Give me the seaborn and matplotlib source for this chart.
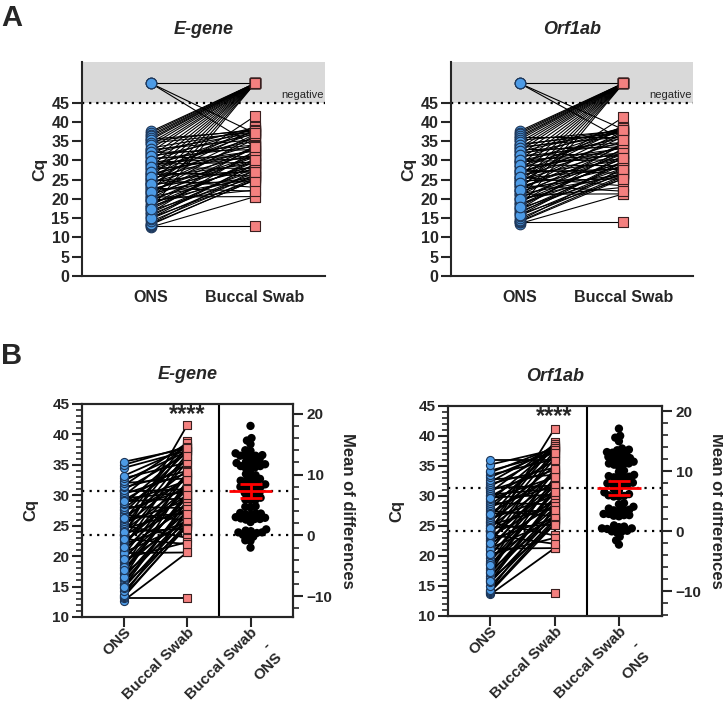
import numpy as np
import pandas as pd
import matplotlib.pyplot as plt
import seaborn as sns
from matplotlib.ticker import MultipleLocator

sns.set_style("ticks")
plt.rcParams['font.family'] = ['Liberation Sans', 'DejaVu Sans']
plt.rcParams['font.weight'] = 'bold'
plt.rcParams['axes.labelweight'] = 'bold'
plt.rcParams['axes.titleweight'] = 'bold'

#%% data (Cq values)

samples = ['ONS', 'Buccal Swab']
diff_label = ['Buccal Swab', '-\nONS']

# E-gene, pairs positive in both samples (panel B)
ons_e = [12.7, 13.1, 13.3, 13.5, 13.6, 14.2, 14.8, 15.2, 15.5, 16.0,
         16.4, 17.0, 17.3, 18.0, 18.5, 19.0, 19.4, 19.8, 20.2, 20.6,
         21.0, 21.3, 21.7, 22.0, 22.3, 22.6, 23.0, 23.3, 25.0, 23.9,
         24.2, 24.5, 24.8, 25.1, 25.5, 25.8, 26.1, 26.5, 26.8, 27.1,
         27.5, 27.8, 28.1, 28.5, 28.8, 29.2, 29.5, 29.9, 30.2, 30.6,
         30.9, 31.3, 31.6, 32.0, 32.4, 32.8, 33.2, 34.5, 35.0, 35.5,
         20.5, 23.5, 16.5, 18.2, 21.5, 15.0, 19.6, 26.3, 29.0, 24.0,
         22.8, 17.8]
bs_e = [20.6, 13.1, 25.0, 24.9, 27.5, 25.4, 26.2, 24.9, 29.0, 26.8,
        28.1, 25.6, 30.4, 27.3, 29.6, 26.0, 31.5, 28.8, 33.3, 25.3,
        30.9, 27.9, 33.6, 25.6, 31.2, 28.4, 35.5, 30.0, 23.0, 36.8,
        31.8, 27.4, 38.0, 33.0, 29.2, 38.9, 34.1, 32.7, 25.9, 37.2,
        31.0, 35.8, 27.9, 37.5, 32.4, 35.1, 30.5, 38.3, 33.6, 31.0,
        36.8, 34.0, 38.6, 32.8, 37.2, 35.4, 37.8, 37.3, 38.0, 37.7,
        20.6, 41.5, 32.5, 33.8, 36.5, 29.0, 22.3, 27.0, 29.5, 24.5,
        22.0, 30.0]
# E-gene, pairs with a negative result (panel A only)
ons_e_bs_neg = [37.5, 37.1, 36.6, 36.2, 35.7, 35.3, 34.6, 33.9, 33.0, 32.2,
                31.0, 29.8, 28.4, 27.0, 25.6, 23.8, 21.9, 19.6, 17.4]
bs_e_ons_neg = [37.0, 33.5]
both_neg_e = 1

# Orf1ab, pairs positive in both samples (panel B)
ons_o = [13.6, 13.9, 14.0, 14.2, 14.4, 15.0, 15.6, 16.0, 16.3, 16.7,
         17.1, 17.6, 18.0, 18.6, 19.2, 19.7, 20.1, 20.5, 20.9, 21.3,
         21.7, 22.0, 22.4, 22.7, 23.0, 23.3, 23.7, 24.0, 25.6, 24.6,
         24.9, 25.2, 25.5, 25.8, 26.2, 26.5, 26.8, 27.2, 27.5, 27.8,
         28.2, 28.5, 28.8, 29.2, 29.5, 29.9, 30.2, 30.6, 30.9, 31.3,
         31.6, 32.0, 32.3, 32.7, 33.1, 33.5, 33.9, 34.2, 35.2, 36.0,
         21.2, 24.1, 17.3, 18.9, 22.2, 15.8, 20.3, 27.0, 29.7, 24.7,
         23.5, 18.5]
bs_o = [21.3, 13.9, 25.3, 25.8, 28.0, 26.1, 26.8, 25.2, 29.8, 27.5,
        28.9, 26.4, 31.2, 28.0, 30.5, 26.7, 32.0, 29.6, 34.0, 26.0,
        31.6, 28.5, 34.4, 26.3, 32.0, 29.1, 36.2, 30.8, 23.4, 37.5,
        32.5, 28.1, 38.4, 33.7, 30.0, 38.9, 34.9, 33.4, 26.6, 37.9,
        31.7, 36.4, 28.6, 38.2, 33.1, 35.8, 31.2, 38.6, 34.3, 31.7,
        37.4, 34.7, 38.3, 33.5, 37.6, 36.1, 38.0, 37.1, 37.7, 36.0,
        21.3, 41.2, 33.2, 34.5, 37.2, 29.6, 23.0, 27.7, 30.2, 25.2,
        22.0, 30.7]
ons_o_bs_neg = [37.6, 37.2, 36.8, 36.3, 35.9, 35.4, 34.7, 34.0, 33.2, 32.4,
                31.3, 30.0, 28.7, 27.3, 25.8, 24.0, 22.2, 20.0, 17.8]
bs_o_ons_neg = [38.0, 35.2]
both_neg_o = 1

NEG = 50  # level where negatives are drawn
T_95 = 1.994

BLUE = '#4d9be6'
BLUE_EDGE = '#1d3557'
PINK = '#f4807f'
PINK_EDGE = '#3a1f1f'


def long_pairs(ons, bs):
    n = len(ons)
    return pd.DataFrame({
        'pair': np.tile(np.arange(n), 2),
        'sample': [samples[0]] * n + [samples[1]] * n,
        'pos': [0] * n + [1] * n,
        'cq': np.concatenate([ons, bs]).astype(float),
    })


def draw_pairs(ax, df, lw, s):
    sns.lineplot(data=df, x='pos', y='cq', units='pair', estimator=None,
                 color='k', lw=lw, ax=ax, legend=False, sort=False)
    sns.scatterplot(data=df[df['sample'] == samples[0]], x='pos', y='cq',
                    marker='o', s=s, color=BLUE, edgecolor=BLUE_EDGE,
                    linewidth=0.8, ax=ax, legend=False, zorder=3)
    sns.scatterplot(data=df[df['sample'] == samples[1]], x='pos', y='cq',
                    marker='s', s=s, color=PINK, edgecolor=PINK_EDGE,
                    linewidth=0.8, ax=ax, legend=False, zorder=3)


def panel_a(ax, ons, bs, ons_bs_neg, bs_ons_neg, both_neg, title):
    ons_all = ons + ons_bs_neg + [NEG] * len(bs_ons_neg) + [NEG] * both_neg
    bs_all = bs + [NEG] * len(ons_bs_neg) + bs_ons_neg + [NEG] * both_neg
    df = long_pairs(ons_all, bs_all)
    ax.axhspan(45, 56, color='#d9d9d9', lw=0, zorder=0)
    ax.axhline(45, color='k', lw=1.6, ls=(0, (1, 2.2)), zorder=1)
    draw_pairs(ax, df, lw=0.8, s=58)
    ax.text(0.995, 45.7, 'negative', transform=ax.get_yaxis_transform(),
            ha='right', va='bottom', fontsize=8, fontweight='normal')
    ax.set_xlim(-0.66, 1.67)
    ax.set_ylim(0, 55.5)
    ax.set_yticks(np.arange(0, 50, 5))
    ax.set_xticks([0, 1])
    ax.set_xticklabels(samples)
    ax.tick_params(axis='x', length=0, pad=10, labelsize=11.5)
    ax.tick_params(axis='y', length=7, width=1.5, labelsize=11.5, pad=2)
    ax.set_xlabel('')
    ax.set_ylabel('Cq', fontsize=12.5, labelpad=3)
    ax.set_title(title, style='italic', fontsize=13, pad=20)
    sns.despine(ax=ax)
    for sp in ax.spines.values():
        sp.set_linewidth(1.5)


def panel_b(ax, ons, bs, title):
    df = long_pairs(ons, bs)
    diffs = np.array(bs) - np.array(ons)
    m_ons, m_bs = np.mean(ons), np.mean(bs)
    m_diff = diffs.mean()
    ci = T_95 * diffs.std(ddof=1) / np.sqrt(len(diffs))

    ax.axvline(1.5, color='k', lw=1.5)
    for m in (m_ons, m_bs):
        ax.axhline(m, color='k', lw=1.6, ls=(0, (1, 2.4)), zorder=1)
    draw_pairs(ax, df, lw=1.3, s=34)
    ax.text(1, 43.2, '****', ha='center', va='center', fontsize=17)

    ax2 = ax.twinx()
    sns.swarmplot(x=np.full(len(diffs), 2.0), y=diffs, native_scale=True,
                  orient='x', color='k', size=3.6, ax=ax2, zorder=3)
    ax2.hlines(m_diff, 2 - 0.34, 2 + 0.34, color='red', lw=2, zorder=5)
    ax2.errorbar(2, m_diff, yerr=ci, fmt='none', ecolor='red', elinewidth=2,
                 capsize=8, capthick=2, zorder=5)
    ax2.set_ylim(10 - m_ons, 45 - m_ons)
    ax2.yaxis.set_major_locator(MultipleLocator(10))
    ax2.yaxis.set_minor_locator(MultipleLocator(2))
    ax2.tick_params(axis='y', which='major', length=7, width=1.5, labelsize=11, pad=3)
    ax2.tick_params(axis='y', which='minor', length=4, width=1.2)
    ax2.set_ylabel('Mean of differences', rotation=270, fontsize=12, labelpad=16)

    ax.set_xlim(-0.66, 2.67)
    ax.set_ylim(10, 45)
    ax.yaxis.set_major_locator(MultipleLocator(5))
    ax.yaxis.set_minor_locator(MultipleLocator(1))
    ax.set_xticks([0, 1, 2])
    rot = dict(rotation=45, ha='right', va='top', rotation_mode='anchor', fontsize=11)
    ax.set_xticklabels(samples + [diff_label[0]], **rot)
    # second part of the difference label, one line further down
    line = 1.2 * 11 / np.sqrt(2)
    ax.annotate(diff_label[1], xy=(2, 0), xycoords=('data', 'axes fraction'),
                xytext=(line, -6 - line), textcoords='offset points',
                multialignment='right', **rot)
    ax.tick_params(axis='x', length=7, width=1.5, pad=-1)
    ax.tick_params(axis='y', which='major', length=7, width=1.5, labelsize=11, pad=2)
    ax.tick_params(axis='y', which='minor', length=4, width=1.2)
    ax.set_xlabel('')
    ax.set_ylabel('Cq', fontsize=12, labelpad=10)
    ax.set_title(title, style='italic', fontsize=13, pad=18)
    for a in (ax, ax2):
        for sp in a.spines.values():
            sp.set_linewidth(1.5)
    return ax2


fig = plt.figure(figsize=(7.23, 7.09), dpi=100)
ax_a1 = fig.add_axes([0.1134, 0.6107, 0.3361, 0.3018])
ax_a2 = fig.add_axes([0.6238, 0.6107, 0.3347, 0.3018])
ax_b1 = fig.add_axes([0.1134, 0.1298, 0.2918, 0.3004])
ax_b2 = fig.add_axes([0.6196, 0.1312, 0.2960, 0.2966])

panel_a(ax_a1, ons_e, bs_e, ons_e_bs_neg, bs_e_ons_neg, both_neg_e, 'E-gene')
panel_a(ax_a2, ons_o, bs_o, ons_o_bs_neg, bs_o_ons_neg, both_neg_o, 'Orf1ab')
tw1 = panel_b(ax_b1, ons_e, bs_e, 'E-gene')
tw2 = panel_b(ax_b2, ons_o, bs_o, 'Orf1ab')

fig.text(0.002, 0.995, 'A', fontsize=21, va='top', ha='left')
fig.text(0.002, 0.518, 'B', fontsize=21, va='top', ha='left')

# lay the swarm out with small dots, then freeze it and enlarge the dots
# so they overlap like the original scatter
fig.canvas.draw()
for tw in (tw1, tw2):
    pts = tw.collections[0]
    del pts.draw
    pts.set_sizes([6.0 ** 2] * len(pts.get_offsets()))

fig.savefig('out.png', dpi=100)
